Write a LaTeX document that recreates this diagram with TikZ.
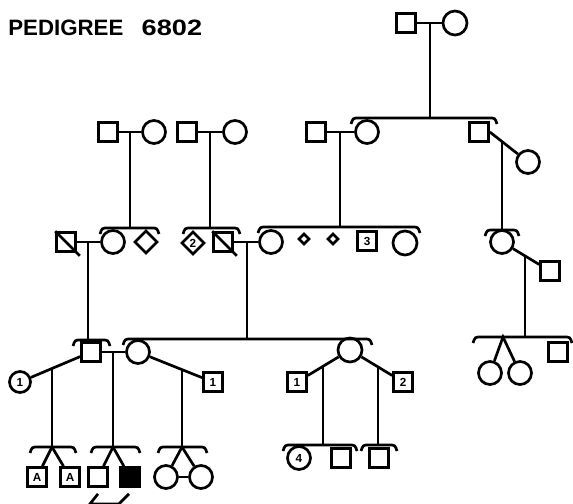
\documentclass[tikz,border=0pt]{standalone}
\usepackage{fontspec}
\setmainfont{Liberation Sans}
\usetikzlibrary{shapes.geometric,calc}

\tikzset{
  male/.style={draw,rectangle,inner sep=0pt,minimum size=#1*0.03cm},
  male/.default=19,
  female/.style={draw,circle,inner sep=0pt,minimum size=#1*0.03cm},
  female/.default=23,
  unknown/.style={draw,diamond,inner sep=0pt,minimum size=#1*0.03cm},
  unknown/.default=23,
  affected/.style={fill=black},
  num/.style={font=\fontsize{10}{10}\selectfont\bfseries}
}
% sibship bar with hooks: y, left x, right x
\newcommand{\sibbar}[3]{%
  \draw (#2-2,#1+6) .. controls (#2,#1) .. (#2+6,#1) -- (#3-6,#1) .. controls (#3,#1) .. (#3+2,#1+6);}
% deceased mark
\newcommand{\dead}[1]{\draw (#1.north west) -- ([shift={(3,3)}]#1.south east);}

\begin{document}
\begin{tikzpicture}[x=0.03cm,y=-0.03cm,line width=2.3pt]
        \useasboundingbox (0,0) rectangle (573,503);
        % title
        \node[anchor=base west,inner sep=0pt,font=\fontsize{19}{19}\selectfont\bfseries] (title) at (7,35)
          {PEDIGREE\hspace{0.55cm}\scalebox{1.22}[1]{6802}};
        % generation I
        \node[male] (I1) at (406,23) {};
        \node[female=24] (I2) at (455,23) {};
        \draw (I1) -- (I2);
        \coordinate (sI) at (430,118);
        \draw (sI |- I1) -- (sI);
        \sibbar{118}{353}{495}
        % generation II
        \node[male] (IIa1) at (108,132) {};
        \node[female] (IIa2) at (154,132) {};
        \node[male] (IIb1) at (187,132) {};
        \node[female] (IIb2) at (235,132) {};
        \node[male] (IIc1) at (316,132) {};
        \node[female] (IIc2) at (367,132) {};
        \node[male] (IId1) at (479,132) {};
        \node[female] (IId2) at (528,162) {};
        \draw (IIa1) -- (IIa2);
        \draw (IIb1) -- (IIb2);
        \draw (IIc1) -- (IIc2);
        \draw (IId1.east) -- (IId2);
        \coordinate (sIIa) at (130,228);
        \coordinate (sIIb) at (210,228);
        \coordinate (sIIc) at (340,227);
        \coordinate (dIId) at (502,142.3);
        \coordinate (sIId) at (502,230);
        \draw (sIIa |- IIa1) -- (sIIa);
        \draw (sIIb |- IIb1) -- (sIIb);
        \draw (sIIc |- IIc1) -- (sIIc);
        \draw (dIId) -- (sIId);
        \sibbar{228}{102}{157}
        \sibbar{228}{185}{238}
        \sibbar{227}{260}{418}
        \sibbar{230}{487}{517}
        % generation III
        \node[male] (IIIa1) at (66,242) {};
        \dead{IIIa1}
        \node[female] (IIIa2) at (113,242) {};
        \node[unknown] (IIIa3) at (146,242) {};
        \node[unknown,num] (IIIb0) at (193,243) {2};
        \node[male] (IIIb1) at (223,242) {};
        \dead{IIIb1}
        \node[female] (IIIb2) at (271,242) {};
        \node[unknown=11] (IIIc1) at (304,239) {};
        \node[unknown=11] (IIIc2) at (333,239) {};
        \node[male,num] (IIIc3) at (367,241) {3};
        \node[female=24] (IIIc4) at (405,243) {};
        \node[female] (IIId1) at (502,242) {};
        \node[male] (IIId2) at (550,271) {};
        \draw (IIIa1) -- (IIIa2);
        \draw (IIIb1) -- (IIIb2);
        \draw (IIId1) -- (IIId2);
        \coordinate (sIIIa) at (88,340);
        \coordinate (sIIIb) at (247,339);
        \coordinate (dIIId) at (525,256);
        \coordinate (sIIId) at (525,337);
        \draw (sIIIa |- IIIa1) -- (sIIIa);
        \draw (sIIIb |- IIIb1) -- (sIIIb);
        \draw (dIIId) -- (sIIId);
        \sibbar{340}{75}{108}
        \sibbar{339}{125}{370}
        \sibbar{337}{475}{570}
        % generation IV
        \node[male] (IVa1) at (91,352) {};
        \node[female] (IVa2) at (138,352) {};
        \node[female=21,num] (IVa0) at (20,382) {1};
        \node[male,num] (IVa3) at (213,382) {1};
        \node[female=24] (IVb) at (350,350) {};
        \node[male,num] (IVb1) at (297,382) {1};
        \node[male,num] (IVb2) at (403,382) {2};
        \coordinate (tIV) at (503,337);
        \node[female] (IVd1) at (490,373) {};
        \node[female] (IVd2) at (520,373) {};
        \node[male] (IVd3) at (558,352) {};
        \draw (IVa1) -- (IVa2);
        \draw (IVa1) -- (IVa0);
        \draw (IVa2) -- (IVa3);
        \draw (IVb) -- (IVb1);
        \draw (IVb) -- (IVb2);
        \draw (IVd1) -- (tIV) -- (IVd2);
        \coordinate (sIVa) at (113,447);
        \coordinate (dIVa0) at (52,368.5);
        \coordinate (sIVa0) at (52,447);
        \coordinate (dIVa3) at (182,369.6);
        \coordinate (sIVa3) at (182,447);
        \coordinate (dIVb1) at (323,366.3);
        \coordinate (sIVb1) at (323,445);
        \coordinate (dIVb2) at (378,366.9);
        \coordinate (sIVb2) at (378,445);
        \draw (sIVa |- IVa1) -- (sIVa);
        \draw (dIVa0) -- (sIVa0);
        \draw (dIVa3) -- (sIVa3);
        \draw (dIVb1) -- (sIVb1);
        \draw (dIVb2) -- (sIVb2);
        \sibbar{447}{32}{74}
        \sibbar{447}{93}{138}
        \sibbar{447}{160}{205}
        \sibbar{445}{285}{355}
        \sibbar{445}{363}{395}
        % generation V
        \node[male,num] (Va1) at (37,477) {A};
        \node[male,num] (Va2) at (70,477) {A};
        \node[male] (Vb1) at (98,477) {};
        \node[male,affected] (Vb2) at (130,477) {};
        \node[female] (Vc1) at (166,477) {};
        \node[female] (Vc2) at (201,477) {};
        \node[female,num] (Vd1) at (299,458) {4};
        \node[male] (Vd2) at (341,458) {};
        \node[male] (Ve1) at (379,458) {};
        \draw (Va1) -- (sIVa0) -- (Va2);
        \draw (Vb1) -- (sIVa) -- (Vb2);
        \draw (Vc1) -- (sIVa3) -- (Vc2);
        \draw (Vc1) -- (Vc2);
        % bracket under the two brothers
        \draw ($(Vb1.south)+(0,6)$) -- ++(-8,10) -- ($(Vb2.south)+(-11,16)$) -- ++(10,-10);
\end{tikzpicture}
\end{document}
